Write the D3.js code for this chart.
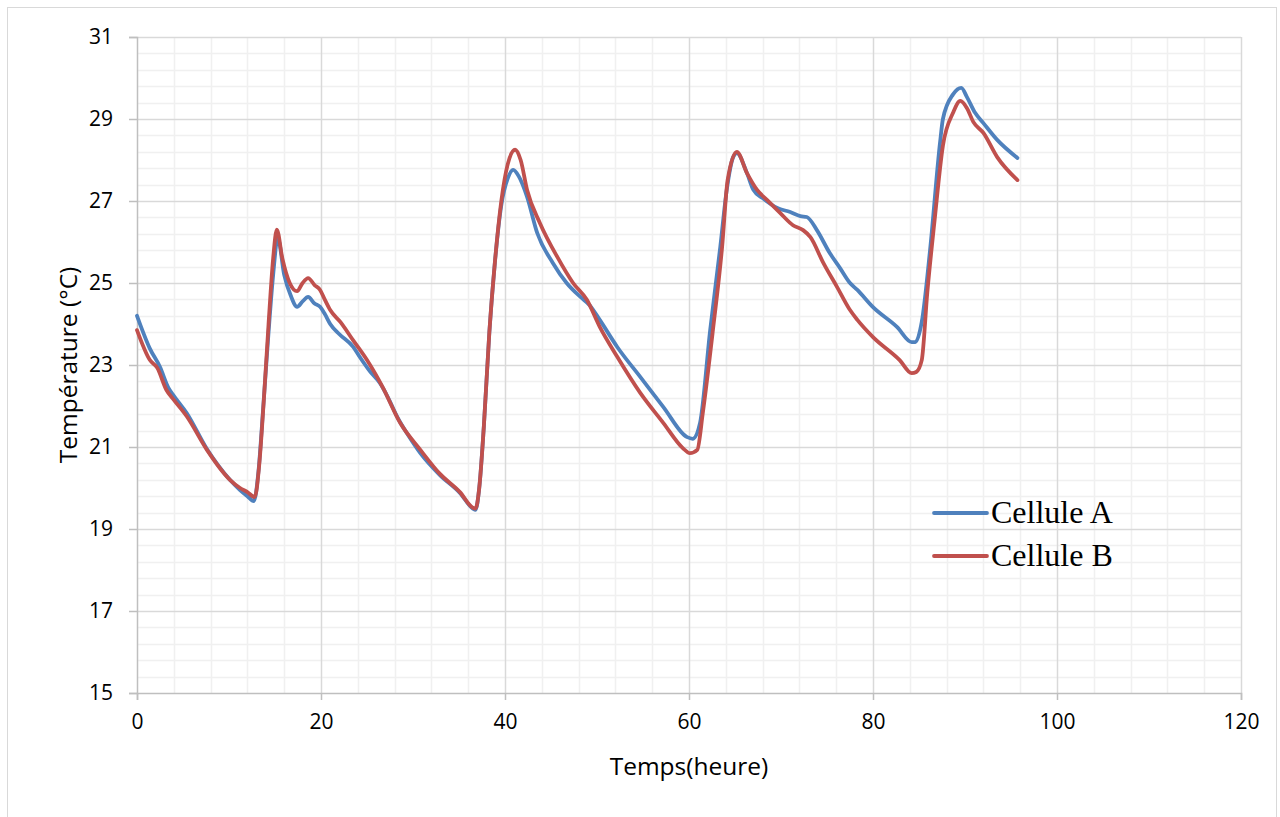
<!DOCTYPE html>
<html>
<head>
<meta charset="utf-8">
<script src="https://cdn.jsdelivr.net/npm/d3@7"></script>
<style>
  html, body { margin: 0; padding: 0; background: #fff; }
  svg { display: block; }
</style>
</head>
<body>
<svg id="chart" width="1280" height="817"></svg>
<script>
const seriesNames = ["Cellule A", "Cellule B"];
const hoursA = [0,1.4,2.5,3.4,4.0,5.4,7.6,10.1,11.2,12.0,12.7,13.2,13.7,14.3,14.8,15.3,16.0,16.7,17.4,18.0,18.6,19.3,19.9,20.4,21.0,22.0,23.5,24.2,25.3,26.4,27.3,28.3,29.5,30.8,32.9,35.1,36.5,36.8,37.2,37.7,38.3,38.9,39.6,40.3,40.9,41.5,42.4,43.5,45.2,46.7,48.2,49.2,50.3,52.2,54.7,57.2,59.8,60.4,61.2,62.3,63.4,64.1,64.8,65.2,66.3,67.0,68.0,69.6,71.0,72.1,72.8,73.9,75.3,76.4,77.5,78.3,80.0,82.6,84.2,84.6,85.3,86.2,87.3,87.6,88.7,89.6,90.2,91.1,92.0,93.5,95.7];
const tempA  = [24.2,23.4,22.95,22.45,22.25,21.83,20.95,20.2,19.95,19.8,19.68,20.4,21.9,23.8,25.2,26.1,25.2,24.7,24.42,24.55,24.66,24.5,24.42,24.25,24.0,23.75,23.44,23.2,22.85,22.56,22.2,21.73,21.28,20.85,20.32,19.88,19.5,19.47,20.0,21.5,23.8,25.5,26.9,27.55,27.76,27.6,27.1,26.22,25.49,25.0,24.66,24.46,24.1,23.44,22.71,21.98,21.24,21.2,21.59,23.85,25.88,27.27,28.07,28.17,27.68,27.27,27.07,26.83,26.73,26.63,26.61,26.29,25.73,25.37,25.0,24.83,24.41,23.93,23.56,23.56,24.05,25.8,28.45,29.0,29.6,29.76,29.54,29.15,28.9,28.49,28.05];
const hoursB = [0,1.4,2.2,3.2,4.0,5.4,7.6,10.1,11.2,12.0,12.8,13.3,13.8,14.3,14.8,15.2,15.8,16.6,17.4,18.0,18.6,19.3,19.9,20.4,21.0,22.1,23.5,25.0,26.7,28.6,30.8,32.9,35.1,36.5,36.8,37.2,37.7,38.3,38.9,39.6,40.3,41.1,41.7,42.4,43.8,45.7,47.4,48.9,50.3,52.2,54.7,57.2,59.3,60.1,60.9,61.5,62.6,63.6,64.2,65.2,66.3,67.4,68.5,69.9,71.3,72.4,73.2,74.6,76.1,77.5,78.3,80.0,82.9,84.2,84.7,85.3,85.9,86.7,87.6,88.7,89.5,90.2,90.9,92.0,93.5,95.7];
const tempB  = [23.85,23.12,22.93,22.39,22.15,21.75,20.93,20.2,20.0,19.9,19.78,20.6,22.2,24.0,25.6,26.3,25.6,25.0,24.8,25.0,25.12,24.95,24.83,24.6,24.34,24.05,23.6,23.12,22.46,21.59,20.93,20.35,19.9,19.52,19.5,20.0,21.5,23.8,25.5,27.0,27.9,28.25,28.0,27.27,26.46,25.63,25.0,24.59,23.93,23.2,22.32,21.59,20.98,20.85,20.93,21.83,23.85,25.88,27.51,28.2,27.68,27.27,27.02,26.71,26.41,26.29,26.12,25.49,24.9,24.34,24.1,23.68,23.12,22.8,22.83,23.12,24.76,26.54,28.35,29.15,29.44,29.27,28.93,28.66,28.07,27.51];
const xTicks = [0,20,40,60,80,100,120];
const yTicks = [15,17,19,21,23,25,27,29,31];
const colors = ["#4F81BD", "#C0504D"];

const svg = d3.select("#chart");
const plot = {left: 137, top: 37, right: 1241, bottom: 693};
const sans = "'Open Sans', 'Liberation Sans', sans-serif";

// outer frame
svg.append("rect").attr("x", 7.5).attr("y", 7.5).attr("width", 1269).attr("height", 820)
  .attr("fill", "#fff").attr("stroke", "#d9d9d9").attr("stroke-width", 1);

const x = d3.scaleLinear().domain([0, 120]).range([plot.left, plot.right]);
const y = d3.scaleLinear().domain([15, 31]).range([plot.bottom, plot.top]);

const g = svg.append("g");
// minor grid
const xMinor = d3.range(0, 120.001, 4).filter(v => v % 20 !== 0);
const yMinor = d3.range(15, 31.001, 0.4).filter(v => Math.abs(((v - 15) / 2) - Math.round((v - 15) / 2)) > 1e-6);
g.selectAll(".xminor").data(xMinor).enter().append("line")
  .attr("x1", d => Math.round(x(d)) + 0.5).attr("x2", d => Math.round(x(d)) + 0.5)
  .attr("y1", plot.top).attr("y2", plot.bottom)
  .attr("stroke", "#f0f0f0").attr("stroke-width", 1.5);
g.selectAll(".yminor").data(yMinor).enter().append("line")
  .attr("y1", d => Math.round(y(d)) + 0.5).attr("y2", d => Math.round(y(d)) + 0.5)
  .attr("x1", plot.left).attr("x2", plot.right)
  .attr("stroke", "#f0f0f0").attr("stroke-width", 1.5);
// major grid
g.selectAll(".xmajor").data(xTicks.filter(v => v > 0)).enter().append("line")
  .attr("x1", d => Math.round(x(d)) + 0.5).attr("x2", d => Math.round(x(d)) + 0.5)
  .attr("y1", plot.top).attr("y2", plot.bottom)
  .attr("stroke", "#d9d9d9").attr("stroke-width", 1.5);
g.selectAll(".ymajor").data(yTicks.filter(v => v > 15)).enter().append("line")
  .attr("y1", d => Math.round(y(d)) + 0.5).attr("y2", d => Math.round(y(d)) + 0.5)
  .attr("x1", plot.left).attr("x2", plot.right)
  .attr("stroke", "#d9d9d9").attr("stroke-width", 1.5);

// axes
const xAxis = d3.axisBottom(x).tickValues(xTicks).tickSize(7).tickPadding(14);
const yAxis = d3.axisLeft(y).tickValues(yTicks).tickSize(8).tickPadding(16);
const gx = svg.append("g").attr("transform", `translate(0,${plot.bottom})`).call(xAxis);
const gy = svg.append("g").attr("transform", `translate(${plot.left},0)`).call(yAxis);
[gx, gy].forEach(a => {
  a.attr("font-size", null).attr("font-family", null);
  a.select(".domain").attr("stroke", "#bfbfbf").attr("stroke-width", 1.5);
  a.selectAll(".tick line").attr("stroke", "#bfbfbf").attr("stroke-width", 1.5);
  a.selectAll(".tick text").attr("fill", "#000")
    .attr("font-family", sans).attr("font-size", 21)
    .style("font-family", sans).style("font-size", "21px");
});

// lines
const line = d3.line().x(d => x(d[0])).y(d => y(d[1])).curve(d3.curveMonotoneX);
const dataA = hoursA.map((h, i) => [h, tempA[i]]);
const dataB = hoursB.map((h, i) => [h, tempB[i]]);
[dataA, dataB].forEach((d, i) => {
  svg.append("path").datum(d).attr("d", line).attr("fill", "none")
    .attr("stroke", colors[i]).attr("stroke-width", 3.8)
    .attr("stroke-linejoin", "round").attr("stroke-linecap", "round");
});

// axis titles
svg.append("text").attr("x", 689).attr("y", 775).attr("text-anchor", "middle")
  .style("font-family", sans).style("font-size", "24.5px")
  .text("Temps(heure)");
svg.append("text").attr("transform", "translate(77,365) rotate(-90)").attr("text-anchor", "middle")
  .style("font-family", sans).style("font-size", "24.5px")
  .text("Température (°C)");

// legend
const leg = svg.append("g");
seriesNames.forEach((name, i) => {
  const ly = 513 + i * 43;
  leg.append("line").attr("x1", 934).attr("x2", 987).attr("y1", ly).attr("y2", ly)
    .attr("stroke", colors[i]).attr("stroke-width", 3.8).attr("stroke-linecap", "round");
  leg.append("text").attr("x", 991).attr("y", ly + 10)
    .style("font-family", "'Liberation Serif', 'Times New Roman', serif").style("font-size", "32px")
    .text(name);
});
</script>
</body>
</html>
